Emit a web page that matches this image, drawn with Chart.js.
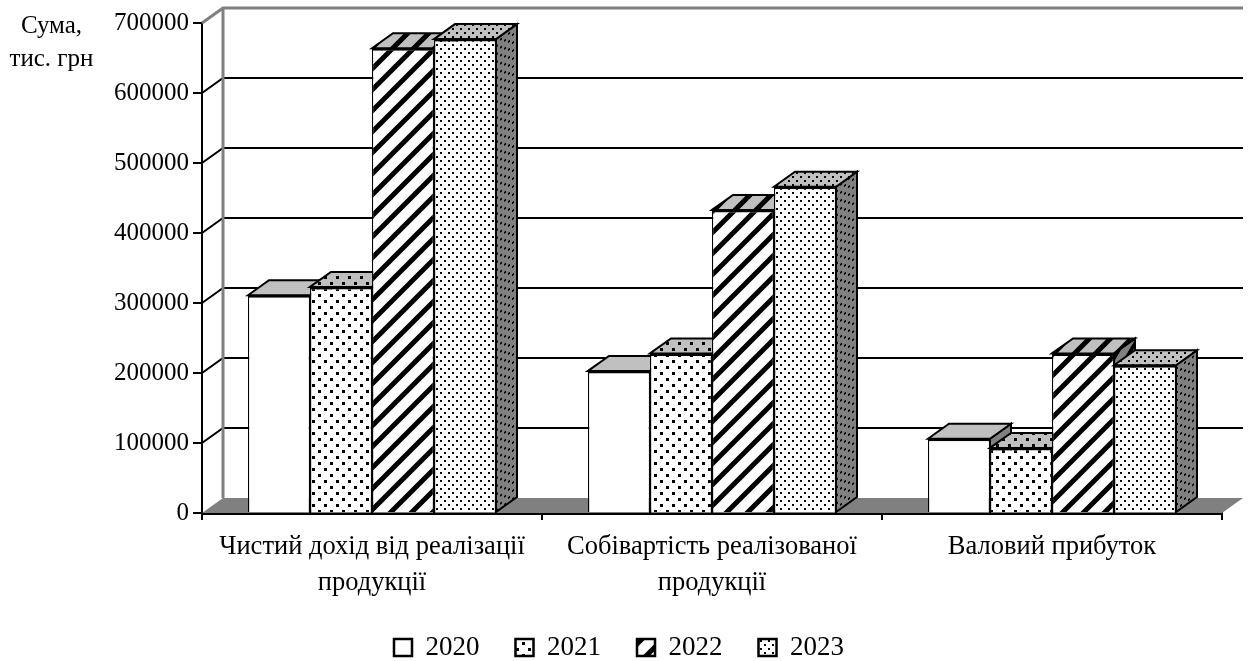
<!DOCTYPE html>
<html>
<head>
<meta charset="utf-8">
<script src="https://cdn.jsdelivr.net/npm/chart.js@4"></script>
<style>
  body { margin: 0; background: #fff; }
  #wrap { position: relative; width: 1253px; height: 661px; }
  #unit { position: absolute; left: -1px; top: 8px; width: 105px; text-align: center;
          font: 25px/33px "Liberation Serif", serif; color: #000; }
</style>
</head>
<body>
<div id="wrap">
  <canvas id="chart" width="1253" height="661"></canvas>
  <div id="unit">Сума,<br>тис. грн</div>
</div>
<script>
const categories = [
  ['Чистий дохід від реалізації', 'продукції'],
  ['Собівартість реалізованої', 'продукції'],
  'Валовий прибуток'
];
const years = ['2020', '2021', '2022', '2023'];
const values2020 = [311000, 203000, 106000];
const values2021 = [323000, 228000, 93000];
const values2022 = [664000, 433000, 228000];
const values2023 = [677000, 466000, 211000];
const yMax = 700000;
const yStep = 100000;

const FONT = '"Liberation Serif", serif';
const DX = 21, DY = 15;

// плитка узора: прозрачный фон + черный рисунок
function makeTile(kind) {
  const c = document.createElement('canvas');
  const g = c.getContext('2d');
  g.fillStyle = '#000';
  if (kind === 'coarse') {
    c.width = c.height = 12;
    g.fillRect(0, 0, 3, 3);
    g.fillRect(6, 6, 3, 3);
  } else if (kind === 'fine') {
    c.width = c.height = 8;
    g.fillRect(0, 0, 2, 2);
    g.fillRect(4, 4, 2, 2);
  } else if (kind === 'stripes') {
    c.width = c.height = 21;
    g.strokeStyle = '#000';
    g.lineWidth = 5;
    g.beginPath();
    g.moveTo(-5, 5); g.lineTo(5, -5);
    g.moveTo(-5, 26); g.lineTo(26, -5);
    g.moveTo(16, 26); g.lineTo(26, 16);
    g.stroke();
  }
  return c;
}

const ctx = document.getElementById('chart').getContext('2d');

function pattern(kind, matrix) {
  const p = ctx.createPattern(makeTile(kind), 'repeat');
  if (matrix) p.setTransform(new DOMMatrix(matrix));
  return p;
}

// лицевая грань: узор на белом
function frontFill(kind) {
  if (!kind) return '#fff';
  const c = document.createElement('canvas');
  const t = makeTile(kind);
  c.width = t.width; c.height = t.height;
  const g = c.getContext('2d');
  g.fillStyle = '#fff';
  g.fillRect(0, 0, c.width, c.height);
  g.drawImage(t, 0, 0);
  return ctx.createPattern(c, 'repeat');
}

const kinds = [null, 'coarse', 'stripes', 'fine'];
const seriesValues = [values2020, values2021, values2022, values2023];

function face(c, pts, base, kind, matrix) {
  c.beginPath();
  pts.forEach((p, i) => i ? c.lineTo(p[0], p[1]) : c.moveTo(p[0], p[1]));
  c.closePath();
  c.fillStyle = base;
  c.fill();
  if (kind) {
    c.fillStyle = pattern(kind, matrix);
    c.fill();
  }
  c.strokeStyle = '#000';
  c.lineWidth = 2;
  c.stroke();
}

function drawWalls(chart) {
  const c = chart.ctx, a = chart.chartArea, y = chart.scales.y;
  c.save();
  // пол
  c.fillStyle = '#808080';
  c.beginPath();
  c.moveTo(a.left, a.bottom);
  c.lineTo(a.left + DX, a.bottom - DY);
  c.lineTo(a.right + DX, a.bottom - DY);
  c.lineTo(a.right, a.bottom);
  c.closePath();
  c.fill();
  // линии сетки на задней стенке
  y.ticks.forEach(t => {
    if (t.value === 0 || t.value === yMax) return;
    const py = y.getPixelForValue(t.value);
    c.strokeStyle = '#000';
    c.lineWidth = 2;
    c.beginPath();
    c.moveTo(a.left, py);
    c.lineTo(a.left + DX, py - DY);
    c.lineTo(a.right + DX, py - DY);
    c.stroke();
  });
  // серая рамка
  c.strokeStyle = '#808080';
  c.lineWidth = 3;
  c.beginPath();
  c.moveTo(a.left, a.top);
  c.lineTo(a.left + DX, a.top - DY);
  c.lineTo(a.right + DX, a.top - DY);
  c.moveTo(a.left + DX, a.top - DY);
  c.lineTo(a.left + DX, a.bottom - DY);
  c.stroke();
  c.restore();
}

const walls = {
  id: 'walls',
  // столбики рисуем слева направо: бок и верх, затем лицевая грань
  beforeDatasetsDraw(chart) {
    drawWalls(chart);
    const c = chart.ctx;
    years.forEach((year, i) => {
      const meta = chart.getDatasetMeta(i);
      c.save();
      meta.data.forEach(bar => {
        const l = bar.x - bar.width / 2, r = bar.x + bar.width / 2;
        const t = bar.y, b = bar.base;
        face(c, [[r, t], [r + DX, t - DY], [r + DX, b - DY], [r, b]], '#808080', kinds[i],
          [1, -DY / DX, 0, 1, 0, 0]);
        face(c, [[l, t], [l + DX, t - DY], [r + DX, t - DY], [r, t]], '#c0c0c0', kinds[i]);
      });
      c.restore();
      meta.controller.draw();
    });
    return false;
  }
};

new Chart(ctx, {
  type: 'bar',
  data: {
    labels: categories,
    datasets: years.map((year, i) => ({
      label: year,
      data: seriesValues[i],
      backgroundColor: frontFill(kinds[i]),
      borderColor: '#000',
      borderSkipped: false,
      borderWidth: { top: 2.5, left: 1.25, right: 1.25, bottom: 0 },
      categoryPercentage: 248 / 340,
      barPercentage: 1
    }))
  },
  plugins: [walls],
  options: {
    responsive: false,
    animation: false,
    layout: { padding: { top: 23, right: 31, left: 16, bottom: -10 } },
    scales: {
      x: {
        grid: { drawOnChartArea: false, color: '#000', lineWidth: 2, tickLength: 7 },
        border: { color: '#000', width: 3 },
        ticks: {
          color: '#000',
          font: { family: FONT, size: 26.5, lineHeight: 1.36 },
          padding: 9,
          maxRotation: 0,
          autoSkip: false
        },
        afterFit(s) { s.height = 85; }
      },
      y: {
        min: 0,
        max: yMax,
        grid: { drawOnChartArea: false, color: '#000', lineWidth: 2, tickLength: 9 },
        border: { color: '#000', width: 2 },
        ticks: {
          stepSize: yStep,
          color: '#000',
          font: { family: FONT, size: 25 },
          padding: 4,
          callback: v => String(v)
        },
        afterFit(s) { s.width = 186; }
      }
    },
    plugins: {
      tooltip: { enabled: false },
      legend: {
        position: 'bottom',
        padding: 0,
        labels: {
          color: '#000',
          font: { family: FONT, size: 27 },
          boxWidth: 18,
          boxHeight: 17,
          padding: 36,
          generateLabels(chart) {
            return Chart.defaults.plugins.legend.labels.generateLabels(chart).map(it => {
              it.lineWidth = 2.5;
              return it;
            });
          }
        }
      }
    }
  }
});
</script>
</body>
</html>
